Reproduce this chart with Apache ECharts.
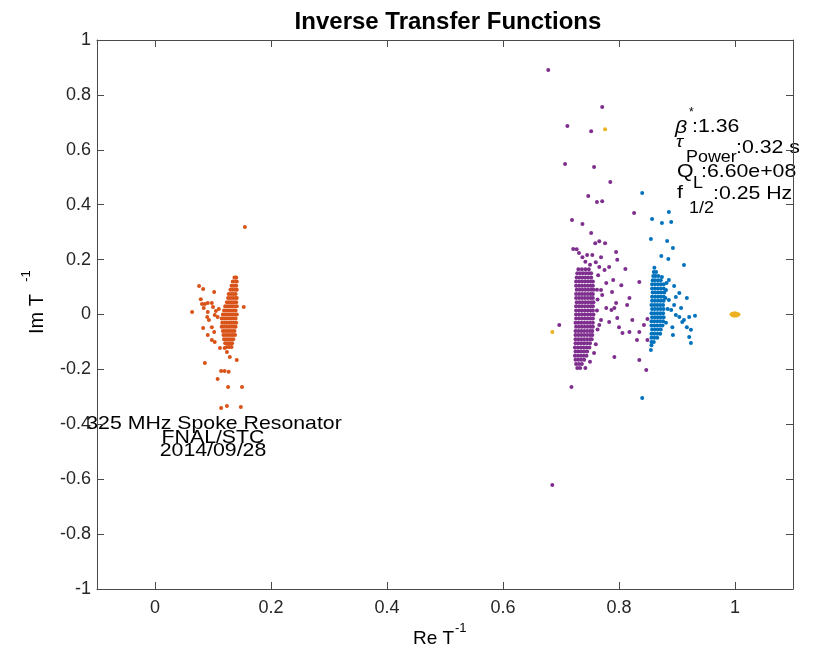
<!DOCTYPE html>
<html><head><meta charset="utf-8">
<script src="https://cdn.jsdelivr.net/npm/echarts@6/dist/echarts.min.js"></script>
<style>html,body{margin:0;padding:0;background:#fff}#c{width:813px;height:655px}</style>
</head><body><div id="c"></div>
<script>
// ---- tick values ----
const xTickValues = [0, 0.2, 0.4, 0.6, 0.8, 1];
const yTickValues = [-1, -0.8, -0.6, -0.4, -0.2, 0, 0.2, 0.4, 0.6, 0.8, 1];

// ---- orange (325 MHz cluster near 0.13) ----
const orangeOutliers = [
  [0.155,0.319],[0.076,0.104],[0.083,0.093],[0.102,0.082],[0.064,0.009],[0.079,0.056],
  [0.081,0.038],[0.086,0.038],[0.091,0.042],[0.098,0.042],[0.100,0.027],[0.084,0.024],
  [0.091,0.009],[0.105,0.013],[0.110,0.020],[0.103,-0.002],[0.108,-0.009],[0.090,-0.009],
  [0.093,-0.020],[0.083,-0.049],[0.098,-0.046],[0.102,-0.064],[0.091,-0.075],[0.098,-0.093],
  [0.103,-0.100],[0.112,-0.122],[0.120,-0.122],[0.124,-0.137],[0.129,-0.155],[0.141,-0.166],
  [0.153,0.027],[0.086,-0.177],[0.114,-0.206],[0.120,-0.206],[0.127,-0.209],[0.108,-0.235],
  [0.126,-0.264],[0.150,-0.264],[0.114,-0.341],[0.124,-0.333],[0.148,-0.337]
];
// rows: [imag, real, real, ...]
const orangeCoreRows = [
  [0.135, 0.137,0.140],
  [0.120, 0.134,0.138,0.141],
  [0.105, 0.132,0.136,0.140],
  [0.090, 0.130,0.134,0.138,0.141],
  [0.075, 0.127,0.131,0.135,0.139],
  [0.060, 0.126,0.130,0.134,0.138,0.141],
  [0.045, 0.124,0.128,0.132,0.136,0.140],
  [0.030, 0.121,0.125,0.129,0.133,0.137,0.141],
  [0.015, 0.119,0.123,0.127,0.131,0.135,0.139],
  [0.000, 0.117,0.121,0.125,0.129,0.133,0.137,0.141],
  [-0.015, 0.115,0.119,0.123,0.127,0.131,0.135,0.139],
  [-0.030, 0.116,0.120,0.124,0.128,0.132,0.136,0.140],
  [-0.045, 0.115,0.119,0.123,0.127,0.131,0.135,0.139],
  [-0.060, 0.117,0.121,0.125,0.129,0.133,0.137],
  [-0.075, 0.118,0.122,0.126,0.130,0.134,0.138],
  [-0.090, 0.119,0.123,0.127,0.131,0.135],
  [-0.105, 0.121,0.125,0.129,0.133],
  [-0.118, 0.124,0.128,0.132]
];

// ---- purple cluster near 0.74 ----
const purpleOutliers = [
  [0.678,0.891],[0.771,0.756],[0.711,0.687],[0.752,0.668],[0.707,0.548],[0.757,0.537],
  [0.785,0.483],[0.747,0.432],[0.762,0.410],[0.771,0.413],[0.826,0.370],[0.719,0.344],
  [0.737,0.330],[0.752,0.297],[0.721,0.239],[0.759,0.260],[0.766,0.267],[0.776,0.260],
  [0.795,0.228],[0.731,0.224],[0.737,0.209],[0.745,0.217],[0.754,0.217],[0.769,0.209],
  [0.797,0.199],[0.811,0.166],[0.783,0.173],[0.766,0.173],[0.775,0.162],[0.790,0.126],
  [0.778,0.115],[0.804,0.107],[0.835,0.118],[0.769,0.089],[0.771,0.071],[0.788,0.082],
  [0.818,0.060],[0.814,0.035],[0.778,0.024],[0.787,0.016],[0.792,0.024],[0.797,-0.013],
  [0.823,-0.020],[0.769,-0.020],[0.783,-0.027],[0.800,-0.046],[0.806,-0.067],[0.818,-0.064],
  [0.835,-0.064],[0.843,-0.038],[0.849,-0.016],[0.831,-0.093],[0.849,-0.093],[0.766,-0.038],
  [0.697,-0.038],[0.792,-0.155],[0.835,-0.166],[0.847,-0.202],[0.718,-0.264],[0.685,-0.621],
  [0.795,0.042],[0.727,0.238],[0.742,0.192],[0.750,0.181],[0.760,0.190],[0.764,0.143],
  [0.762,0.090],[0.763,0.055],[0.762,0.015],[0.763,-0.055],[0.760,-0.108],[0.757,-0.140],
  [0.750,-0.172],[0.742,-0.195]
];
const purpleCoreRows = [
  [0.165, 0.730,0.736,0.742,0.748],
  [0.150, 0.728,0.733,0.738,0.743,0.748,0.752],
  [0.135, 0.727,0.732,0.737,0.742,0.747,0.752],
  [0.120, 0.726,0.731,0.736,0.741,0.746,0.751,0.755],
  [0.105, 0.726,0.731,0.736,0.741,0.746,0.751,0.755],
  [0.090, 0.727,0.732,0.737,0.742,0.747,0.752,0.756],
  [0.075, 0.726,0.731,0.736,0.741,0.746,0.751,0.755],
  [0.060, 0.726,0.731,0.736,0.741,0.746,0.751,0.755],
  [0.045, 0.727,0.732,0.737,0.742,0.747,0.752,0.756],
  [0.030, 0.726,0.731,0.736,0.741,0.746,0.751,0.755],
  [0.015, 0.726,0.731,0.736,0.741,0.746,0.751,0.755],
  [0.000, 0.726,0.731,0.736,0.741,0.746,0.751,0.756],
  [-0.015, 0.726,0.731,0.736,0.741,0.746,0.751,0.755],
  [-0.030, 0.725,0.730,0.735,0.740,0.745,0.750,0.755],
  [-0.045, 0.726,0.731,0.736,0.741,0.746,0.751,0.755],
  [-0.060, 0.725,0.730,0.735,0.740,0.745,0.750,0.754],
  [-0.075, 0.725,0.730,0.735,0.740,0.745,0.750,0.754],
  [-0.090, 0.725,0.730,0.735,0.740,0.745,0.750,0.753],
  [-0.105, 0.725,0.730,0.735,0.740,0.745,0.750],
  [-0.120, 0.724,0.729,0.734,0.739,0.744,0.749],
  [-0.135, 0.725,0.730,0.735,0.740,0.745],
  [-0.150, 0.724,0.729,0.734,0.739,0.744],
  [-0.165, 0.725,0.730,0.735,0.740],
  [-0.180, 0.726,0.731,0.736],
  [-0.195, 0.728,0.733]
];

// ---- blue cluster near 0.87 ----
const blueOutliers = [
  [0.840,0.443],[0.857,0.348],[0.874,0.333],[0.886,0.373],[0.890,0.337],[0.855,0.275],
  [0.883,0.268],[0.893,0.242],[0.873,0.213],[0.885,0.202],[0.912,0.180],[0.874,0.137],
  [0.886,0.126],[0.895,0.104],[0.881,0.089],[0.904,0.078],[0.898,0.064],[0.917,0.060],
  [0.886,0.053],[0.895,0.035],[0.907,0.024],[0.890,0.016],[0.898,-0.002],[0.904,-0.009],
  [0.912,-0.020],[0.921,-0.009],[0.931,-0.005],[0.917,-0.046],[0.924,-0.056],[0.892,-0.046],
  [0.921,-0.082],[0.924,-0.104],[0.893,-0.075],[0.909,-0.027],[0.855,-0.129],[0.840,-0.304],
  [0.882,0.115],[0.884,0.020],[0.881,-0.030],[0.880,0.060]
];
const blueCoreRows = [
  [0.170, 0.861],
  [0.155, 0.860,0.864],
  [0.140, 0.859,0.863,0.868],
  [0.125, 0.858,0.862,0.867,0.872],
  [0.110, 0.857,0.862,0.867,0.872,0.877],
  [0.095, 0.857,0.862,0.867,0.872,0.877],
  [0.080, 0.858,0.863,0.868,0.873,0.878],
  [0.065, 0.857,0.862,0.867,0.872,0.877],
  [0.050, 0.857,0.862,0.867,0.872,0.877],
  [0.035, 0.856,0.861,0.866,0.871,0.876],
  [0.020, 0.857,0.862,0.867,0.872,0.877],
  [0.005, 0.856,0.861,0.866,0.871,0.876],
  [-0.010, 0.857,0.862,0.867,0.872,0.877],
  [-0.025, 0.856,0.861,0.866,0.871,0.876],
  [-0.040, 0.856,0.861,0.866,0.871,0.875],
  [-0.055, 0.857,0.862,0.867,0.872],
  [-0.070, 0.856,0.861,0.866,0.871],
  [-0.085, 0.856,0.861,0.866],
  [-0.100, 0.856,0.860],
  [-0.112, 0.856]
];

// ---- yellow cluster near 1.0 ----
const yellowPoints = [
  [0.994,0.001],[0.997,0.004],[1.000,0.005],[1.003,0.003],[1.006,0.000],[1.003,-0.004],
  [0.999,-0.005],[0.996,-0.003],[1.000,0.000],[0.998,0.002],[1.002,-0.001],
  [0.685,-0.064],[0.776,0.675]
];

function rowsToPoints(rows) {
  const pts = [];
  rows.forEach(r => { for (let i = 1; i < r.length; i++) pts.push([r[i], r[0]]); });
  return pts;
}

const FONT = "'Liberation Sans', Arial, Helvetica, sans-serif";
const AX = '#4a4a4a';
const SX = 1.12; // horizontal stretch of annotation text
const chart = echarts.init(document.getElementById('c'), null, {renderer: 'canvas'});

function scatter(name, color, data) {
  return {
    name, type: 'scatter', data, symbol: 'circle', symbolSize: 4,
    itemStyle: {color, opacity: 1}, silent: true, animation: false,
    xAxisIndex: 0, yAxisIndex: 0
  };
}

function txt(x, y, text, size, opts) {
  opts = opts || {};
  return Object.assign({
    type: 'text', x, y, silent: true,
    style: Object.assign({text, fill: '#000', font: size + 'px ' + FONT,
      textAlign: 'left', textVerticalAlign: 'middle'}, opts.style || {})
  }, opts.el || {});
}
function atxt(x, y, text, size, opts) {
  opts = opts || {};
  opts.el = Object.assign({scaleX: SX}, opts.el || {});
  return txt(x, y, text, size, opts);
}

const option = {
  backgroundColor: '#fff',
  animation: false,
  title: {
    text: 'Inverse Transfer Functions', left: 443, top: 5, textAlign: 'center',
    textStyle: {fontFamily: FONT, fontWeight: 'bold', fontSize: 24, color: '#000'}
  },
  grid: {left: 97, right: 20, top: 40, bottom: 66, containLabel: false},
  xAxis: [
    {type: 'value', min: -0.1, max: 1.1, position: 'bottom',
     axisLine: {show: true, onZero: false, lineStyle: {color: AX, width: 1}},
     axisTick: {show: true, inside: true, length: 7, customValues: xTickValues, lineStyle: {color: AX}},
     axisLabel: {show: true, customValues: xTickValues, margin: 10, color: '#262626', fontFamily: FONT, fontSize: 18},
     splitLine: {show: false}},
    {type: 'value', min: -0.1, max: 1.1, position: 'top',
     axisLine: {show: true, onZero: false, lineStyle: {color: AX, width: 1}},
     axisTick: {show: true, inside: true, length: 7, customValues: xTickValues, lineStyle: {color: AX}},
     axisLabel: {show: false}, splitLine: {show: false}}
  ],
  yAxis: [
    {type: 'value', min: -1, max: 1, interval: 0.2, position: 'left',
     axisLine: {show: true, onZero: false, lineStyle: {color: AX, width: 1}},
     axisTick: {show: true, inside: true, length: 7, lineStyle: {color: AX}},
     axisLabel: {show: true, margin: 6, color: '#262626', fontFamily: FONT, fontSize: 18,
       formatter: v => String(Math.round(v * 10) / 10)},
     splitLine: {show: false}},
    {type: 'value', min: -1, max: 1, interval: 0.2, position: 'right',
     axisLine: {show: true, onZero: false, lineStyle: {color: AX, width: 1}},
     axisTick: {show: true, inside: true, length: 7, lineStyle: {color: AX}},
     axisLabel: {show: false}, splitLine: {show: false}}
  ],
  series: [
    scatter('Blue', '#0072BD', blueOutliers.concat(rowsToPoints(blueCoreRows))),
    scatter('Orange', '#D95319', orangeOutliers.concat(rowsToPoints(orangeCoreRows))),
    scatter('Yellow', '#EDB120', yellowPoints),
    scatter('Purple', '#7E2F8E', purpleOutliers.concat(rowsToPoints(purpleCoreRows)))
  ],
  graphic: [
    // axis labels
    txt(413, 639, 'Re T', 19),
    txt(455, 628, '-1', 13),
    txt(37, 314, 'Im T', 20, {el: {rotation: Math.PI / 2}, style: {textAlign: 'center'}}),
    txt(26, 276, '-1', 13, {el: {rotation: Math.PI / 2}, style: {textAlign: 'center'}}),
    // parameter annotation
    atxt(675, 128, 'β', 19, {style: {font: 'italic 19px ' + FONT}}),
    txt(689, 113, '*', 12),
    atxt(692, 127, ':1.36', 19),
    atxt(676, 142, 'τ', 17, {style: {font: 'italic 17px ' + FONT}}),
    atxt(686, 158, 'Power', 16),
    atxt(736, 148, ':0.32 s', 19),
    atxt(677, 172, 'Q', 19),
    atxt(693, 184, 'L', 16),
    atxt(701, 172, ':6.60e+08', 19),
    atxt(677, 193, 'f', 19),
    atxt(689, 209, '1/2', 16),
    atxt(713, 194, ':0.25 Hz', 19),
    // resonator annotation
    atxt(214, 424, '325 MHz Spoke Resonator', 19, {style: {textAlign: 'center'}}),
    atxt(213, 438, 'FNAL/STC', 19, {style: {textAlign: 'center'}}),
    atxt(213, 451, '2014/09/28', 19, {style: {textAlign: 'center'}})
  ]
};
chart.setOption(option);
</script>
</body></html>
